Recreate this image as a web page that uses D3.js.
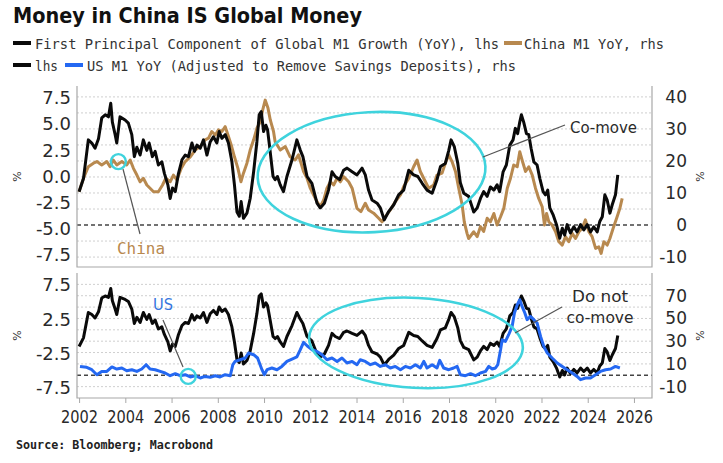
<!DOCTYPE html>
<html>
<head>
<meta charset="utf-8">
<script src="https://cdn.jsdelivr.net/npm/d3@7"></script>
<style>
  body { margin: 0; background: #fff; }
  svg { display: block; }
</style>
</head>
<body>
<svg id="chart" width="723" height="463"></svg>
<script>
// First principal component of global M1 growth (YoY), lhs - [year, %]
const globalPc1 = [
  [2002.0,-1.45],[2002.19,-0.2],[2002.40,3.5],[2002.55,3.2],[2002.69,2.7],[2002.84,3.6],[2002.98,5.6],[2003.13,5.9],
  [2003.27,5.7],[2003.37,7.0],[2003.44,5.2],[2003.56,4.0],[2003.63,3.2],[2003.77,5.7],[2003.99,5.4],[2004.13,5.1],
  [2004.28,4.0],[2004.39,1.9],[2004.50,2.8],[2004.64,2.05],[2004.78,3.5],[2004.93,2.5],[2005.03,3.2],[2005.17,1.9],
  [2005.29,2.4],[2005.43,1.1],[2005.58,1.4],[2005.69,0.3],[2005.84,-0.8],[2005.94,-2.1],[2006.04,-1.1],[2006.16,-1.45],
  [2006.30,0.3],[2006.45,1.6],[2006.59,2.05],[2006.73,1.9],[2006.88,3.2],[2006.99,2.4],[2007.10,3.0],[2007.24,2.7],
  [2007.38,3.5],[2007.53,2.05],[2007.67,3.3],[2007.81,3.8],[2007.96,3.2],[2008.06,4.3],[2008.18,3.65],[2008.32,4.0],
  [2008.46,3.2],[2008.61,1.4],[2008.72,-0.8],[2008.83,-3.4],[2008.93,-3.8],[2009.01,-2.4],[2009.11,-4.0],[2009.26,-3.5],
  [2009.40,-2.1],[2009.55,0.45],[2009.69,3.3],[2009.79,5.9],[2009.88,6.2],[2009.98,4.3],[2010.08,4.9],[2010.15,4.5],
  [2010.24,2.85],[2010.39,0.0],[2010.48,-0.3],[2010.58,0.0],[2010.70,-0.8],[2010.84,-1.45],[2010.99,0.0],[2011.21,1.6],
  [2011.42,3.5],[2011.57,2.5],[2011.68,1.9],[2011.86,0.0],[2012.07,-0.65],[2012.29,-2.55],[2012.43,-3.0],[2012.61,-2.55],
  [2012.79,-1.3],[2012.94,0.45],[2013.08,0.0],[2013.27,-0.3],[2013.44,0.6],[2013.59,0.8],[2013.81,0.45],[2014.02,0.15],
  [2014.24,0.8],[2014.38,0.15],[2014.52,-1.3],[2014.67,-2.25],[2014.89,-2.55],[2015.03,-3.0],[2015.20,-4.15],[2015.39,-3.35],
  [2015.61,-2.7],[2015.82,-1.75],[2016.04,-1.3],[2016.26,0.6],[2016.47,0.15],[2016.65,0.0],[2016.84,-0.65],[2017.05,-1.3],
  [2017.27,-1.6],[2017.48,-0.3],[2017.63,0.95],[2017.84,1.25],[2017.99,2.5],[2018.09,3.5],[2018.23,2.85],[2018.38,1.25],
  [2018.49,-0.6],[2018.64,-1.6],[2018.85,-1.9],[2019.07,-3.4],[2019.22,-3.0],[2019.36,-2.1],[2019.50,-1.45],[2019.65,-1.9],
  [2019.79,-1.0],[2019.94,-1.3],[2020.08,-0.8],[2020.19,-1.45],[2020.34,0.45],[2020.48,1.1],[2020.63,3.0],[2020.77,3.5],
  [2020.87,4.6],[2020.97,4.1],[2021.06,5.2],[2021.13,5.9],[2021.23,5.2],[2021.35,4.1],[2021.45,4.0],[2021.55,2.7],
  [2021.67,1.4],[2021.81,1.1],[2021.93,-0.2],[2022.07,-1.45],[2022.17,-1.75],[2022.27,-1.3],[2022.36,-3.0],[2022.51,-3.7],
  [2022.65,-4.6],[2022.79,-5.9],[2022.90,-4.95],[2023.00,-5.6],[2023.11,-4.6],[2023.25,-5.4],[2023.40,-4.8],[2023.54,-5.3],
  [2023.69,-4.6],[2023.83,-5.1],[2023.98,-4.6],[2024.12,-5.3],[2024.26,-4.8],[2024.41,-5.3],[2024.52,-4.3],[2024.63,-3.85],
  [2024.74,-1.75],[2024.84,-2.25],[2024.96,-3.5],[2025.06,-2.7],[2025.20,-1.75],[2025.30,0.15]
];

// China M1 YoY, rhs - [year, %]
const chinaM1 = [
  [2002.0,10.4],[2002.19,14.6],[2002.40,18.2],[2002.62,19.3],[2002.77,19.8],[2002.98,18.75],[2003.20,19.8],[2003.34,18.2],
  [2003.48,20.3],[2003.63,18.75],[2003.85,19.8],[2004.06,18.75],[2004.21,20.3],[2004.35,17.7],[2004.50,15.6],[2004.64,13.5],
  [2004.78,14.6],[2004.93,12.5],[2005.07,11.5],[2005.22,10.4],[2005.43,10.4],[2005.61,12.5],[2005.75,14.6],[2005.94,13.5],
  [2006.08,15.6],[2006.23,14.1],[2006.42,17.7],[2006.59,19.8],[2006.81,21.3],[2007.02,23.4],[2007.24,24.5],[2007.45,26.6],
  [2007.60,27.1],[2007.74,29.2],[2007.89,28.1],[2008.03,29.7],[2008.18,29.2],[2008.32,30.7],[2008.44,28.1],[2008.58,25],
  [2008.72,21.3],[2008.87,17.7],[2009.00,13.5],[2009.11,16.2],[2009.26,19.3],[2009.40,23.4],[2009.55,26.6],[2009.69,30.2],
  [2009.84,32.3],[2009.94,35.9],[2010.05,39],[2010.17,36.5],[2010.27,32.8],[2010.41,29.2],[2010.48,26],[2010.70,23.4],
  [2010.92,24.5],[2011.13,21.3],[2011.35,20.3],[2011.49,21.9],[2011.71,16.7],[2011.86,14.6],[2012.00,11.5],[2012.14,9.4],
  [2012.29,7.3],[2012.43,5.7],[2012.58,7.8],[2012.72,11.5],[2012.87,13.5],[2013.01,12.5],[2013.16,14.6],[2013.30,13.5],
  [2013.44,15.1],[2013.66,13.5],[2013.81,11.5],[2014.02,5.2],[2014.19,4.2],[2014.38,6.8],[2014.52,4.7],[2014.74,3.7],
  [2014.96,2.1],[2015.10,1.0],[2015.25,2.6],[2015.46,4.7],[2015.68,7.3],[2015.90,9.4],[2016.04,12],[2016.26,14.6],
  [2016.47,18.2],[2016.62,20.3],[2016.76,16.7],[2016.98,13.5],[2017.12,11.5],[2017.34,12.5],[2017.48,15.6],[2017.70,16.2],
  [2017.84,19.3],[2017.99,21.9],[2018.13,19.8],[2018.28,16.7],[2018.42,11.5],[2018.57,6.25],[2018.66,1.0],[2018.78,-2.6],
  [2018.85,-4.2],[2019.07,-2.1],[2019.22,-3.6],[2019.36,-0.5],[2019.50,-2],[2019.65,2.1],[2019.79,1.0],[2019.94,3.6],
  [2020.08,0],[2020.23,2.6],[2020.37,5.2],[2020.52,11.5],[2020.66,14.6],[2020.80,18.75],[2020.95,18.2],[2021.06,22.9],
  [2021.16,20.3],[2021.31,16.7],[2021.45,18.2],[2021.60,15.6],[2021.74,11.5],[2021.88,8.3],[2022.03,5.7],[2022.13,0],
  [2022.22,3.6],[2022.32,1.0],[2022.46,0],[2022.61,-2.1],[2022.75,-5.2],[2022.90,-6.25],[2023.04,-3.6],[2023.18,-5.2],
  [2023.33,-2.6],[2023.47,-4.2],[2023.62,-2.1],[2023.76,-1],[2023.90,1.6],[2024.05,-2.1],[2024.19,-3.6],[2024.34,-7.3],
  [2024.48,-6.8],[2024.58,-8.85],[2024.70,-5.2],[2024.84,-6.25],[2024.96,-4.2],[2025.10,-1],[2025.25,2.1],[2025.39,5.2],
  [2025.49,8.3]
];

// US M1 YoY (adjusted to remove savings deposits), rhs - [year, %]
const usM1 = [
  [2002.04,7.8],[2002.33,7],[2002.55,4.9],[2002.77,0.5],[2002.98,3.4],[2003.20,3.4],[2003.42,7.3],[2003.63,5.5],
  [2003.85,6.4],[2004.06,4],[2004.28,4.9],[2004.50,3.4],[2004.71,5.5],[2004.90,9.3],[2005.07,5.5],[2005.29,4.9],
  [2005.51,3.4],[2005.72,2],[2005.94,-0.4],[2006.16,1.4],[2006.37,-0.4],[2006.59,0.5],[2006.81,-1.5],[2007.02,-0.4],
  [2007.24,-2.4],[2007.45,-1],[2007.67,-1.8],[2007.89,-0.4],[2008.10,-1.5],[2008.32,0.5],[2008.54,-0.4],[2008.65,9.3],
  [2008.75,12.2],[2008.97,13.7],[2009.19,15.2],[2009.33,19.6],[2009.55,18.1],[2009.72,15.2],[2009.91,4.9],[2010.01,0.5],
  [2010.13,4.9],[2010.34,6.4],[2010.56,4.9],[2010.77,7.8],[2010.99,12.2],[2011.21,14.3],[2011.42,16.1],[2011.57,22.5],
  [2011.71,28.9],[2011.86,26],[2012.07,22.5],[2012.29,21],[2012.51,18.1],[2012.72,13.7],[2012.94,15.2],[2013.16,12.2],
  [2013.37,15.2],[2013.59,10.8],[2013.81,12.2],[2014.02,9.3],[2014.16,13.7],[2014.38,12.2],[2014.60,9.3],[2014.81,10.8],
  [2015.03,7.8],[2015.25,9.3],[2015.46,6.4],[2015.68,7.8],[2015.90,4.9],[2016.11,7.8],[2016.33,6.4],[2016.55,9.3],
  [2016.76,6.4],[2016.91,12.2],[2017.05,6.4],[2017.27,9.3],[2017.48,6.4],[2017.60,13.1],[2017.77,6.4],[2017.99,4.9],
  [2018.20,6.4],[2018.35,7.8],[2018.49,0.5],[2018.71,-0.4],[2018.93,1.4],[2019.14,-0.4],[2019.36,2],[2019.58,3.4],
  [2019.72,7.8],[2019.87,5.5],[2020.01,6.4],[2020.11,9.3],[2020.23,22.5],[2020.30,31.3],[2020.44,29.8],[2020.58,35.7],
  [2020.73,43],[2020.83,54.8],[2020.95,62],[2021.06,66.5],[2021.16,60.6],[2021.28,54.8],[2021.38,48.9],[2021.52,51.8],
  [2021.67,48.9],[2021.81,46],[2021.96,34.2],[2022.10,25.4],[2022.25,19.6],[2022.46,15.2],[2022.68,10.8],[2022.90,7.8],
  [2023.11,4.9],[2023.33,2],[2023.54,-1],[2023.69,-3.9],[2023.90,-2.4],[2024.12,-2.4],[2024.34,0.5],[2024.55,3.4],
  [2024.77,4.9],[2024.99,5.5],[2025.20,7.8],[2025.39,6.4]
];

const yearTicks = d3.range(2002, 2027, 2);
const topLhsTicks = [7.5, 5, 2.5, 0, -2.5, -5, -7.5];
const topRhsTicks = [40, 30, 20, 10, 0, -10];
const topGrid = d3.range(-10, 41, 5);
const botLhsTicks = [7.5, 2.5, -2.5, -7.5];
const botRhsTicks = [70, 50, 30, 10, -10];
const botGrid = d3.range(-10, 81, 10);

const black = "#0a0a0a", gold = "#b8894f", blue = "#2468f2", cyan = "#3fd3dd";
const labelFont = "'DejaVu Sans', Verdana, sans-serif";
const monoFont = "'DejaVu Sans Mono', monospace";

const svg = d3.select("#chart");
const left = 77, right = 652;
const topPanel = { y0: 86, y1: 267 };
const botPanel = { y0: 273, y1: 398 };

const x = d3.scaleLinear().domain([2001.91, 2026.78]).range([left, right]);
const yTopL = d3.scaleLinear().domain([-8.65, 8.65]).range([topPanel.y1, topPanel.y0]);
const yTopR = d3.scaleLinear().domain([-13.1, 43.4]).range([topPanel.y1, topPanel.y0]);
const yBotL = d3.scaleLinear().domain([-8.96, 9.25]).range([botPanel.y1, botPanel.y0]);
const yBotR = d3.scaleLinear().domain([-20, 90]).range([botPanel.y1, botPanel.y0]);

// title + legend
svg.append("text").attr("x", 13).attr("y", 23)
  .attr("font-family", labelFont).attr("font-weight", "bold").attr("font-size", 20.5)
  .attr("fill", "#111").attr("textLength", 349).attr("lengthAdjust", "spacingAndGlyphs")
  .text("Money in China IS Global Money");

const legendItems = [
  { color: black, x: 13, y: 43, label: "First Principal Component of Global M1 Growth (YoY), lhs", tx: 35, len: 464 },
  { color: gold, x: 504, y: 43, label: "China M1 YoY, rhs", tx: 524, len: 140 },
  { color: black, x: 13, y: 65, label: "lhs", tx: 35, len: 23 },
  { color: blue, x: 65, y: 65, label: "US M1 YoY (Adjusted to Remove Savings Deposits), rhs", tx: 87, len: 429 }
];
legendItems.forEach(d => {
  svg.append("line").attr("x1", d.x).attr("x2", d.x + 18).attr("y1", d.y).attr("y2", d.y)
    .attr("stroke", d.color).attr("stroke-width", 4);
  svg.append("text").attr("x", d.tx).attr("y", d.y + 5.5)
    .attr("font-family", monoFont).attr("font-size", 13.6).attr("fill", "#333")
    .attr("textLength", d.len).attr("lengthAdjust", "spacingAndGlyphs")
    .text(d.label);
});

function drawPanel(p, yL, yR, grid, lhsTicks, rhsTicks, lhsFmt) {
  const g = svg.append("g");

  g.selectAll(".grid").data(grid).enter().append("line")
    .attr("x1", left).attr("x2", right)
    .attr("y1", d => yR(d)).attr("y2", d => yR(d))
    .attr("stroke", d => d === 0 ? "#444" : "#cfcfcf")
    .attr("stroke-width", d => d === 0 ? 1.6 : 1)
    .attr("stroke-dasharray", d => d === 0 ? "4,3" : "2,2");

  // frame: left, right, bottom
  g.append("path")
    .attr("d", `M${left},${p.y0}V${p.y1}H${right}V${p.y0}`)
    .attr("fill", "none").attr("stroke", "#a8a8a8").attr("stroke-width", 1.2);

  const axL = g.append("g").attr("transform", `translate(${left},0)`)
    .call(d3.axisLeft(yL).tickValues(lhsTicks).tickFormat(lhsFmt).tickSize(0).tickPadding(6));
  const axR = g.append("g").attr("transform", `translate(${right},0)`)
    .call(d3.axisRight(yR).tickValues(rhsTicks).tickFormat(d => String(d)).tickSize(0));
  [axL, axR].forEach(a => {
    a.select(".domain").remove();
    a.selectAll("text").attr("font-family", labelFont).attr("fill", "#2a2a2a");
  });
  axL.selectAll("text").attr("font-size", 18);
  axR.selectAll("text").attr("font-size", 17).attr("text-anchor", "end").attr("x", 35);

  const mid = (p.y0 + p.y1) / 2;
  [17, 700].forEach(px => {
    g.append("text").attr("transform", `translate(${px},${mid}) rotate(-90)`)
      .attr("text-anchor", "middle").attr("dy", "0.35em")
      .attr("font-family", labelFont).attr("font-size", 11).attr("fill", "#333")
      .text("%");
  });
  return g;
}

const fmtLhs = d => d.toFixed(1);

const gTop = drawPanel(topPanel, yTopL, yTopR, topGrid, topLhsTicks, topRhsTicks, fmtLhs);
const gBot = drawPanel(botPanel, yBotL, yBotR, botGrid, botLhsTicks, botRhsTicks, fmtLhs);

const lineOf = ys => d3.line().x(d => x(d[0])).y(d => ys(d[1]));

gTop.append("path").datum(chinaM1).attr("d", lineOf(yTopR))
  .attr("fill", "none").attr("stroke", gold).attr("stroke-width", 3).attr("stroke-linejoin", "round");
gTop.append("path").datum(globalPc1).attr("d", lineOf(yTopL))
  .attr("fill", "none").attr("stroke", black).attr("stroke-width", 3).attr("stroke-linejoin", "round");

gBot.append("path").datum(globalPc1).attr("d", lineOf(yBotL))
  .attr("fill", "none").attr("stroke", black).attr("stroke-width", 3).attr("stroke-linejoin", "round");
gBot.append("path").datum(usM1).attr("d", lineOf(yBotR))
  .attr("fill", "none").attr("stroke", blue).attr("stroke-width", 3).attr("stroke-linejoin", "round");

// x axis
const axX = svg.append("g").attr("transform", `translate(0,${botPanel.y1})`)
  .call(d3.axisBottom(x).tickValues(yearTicks).tickFormat(d => String(d)).tickSize(5).tickPadding(8));
axX.select(".domain").remove();
axX.selectAll("line").attr("stroke", "#a8a8a8");
axX.selectAll("text").attr("font-family", labelFont).attr("font-size", 17).attr("fill", "#2a2a2a")
  .attr("textLength", 37).attr("lengthAdjust", "spacingAndGlyphs");

// annotations
const ann = svg.append("g").attr("fill", "none");

ann.append("ellipse")
  .attr("transform", `translate(${x(2014.65)},${yTopR(16.5)}) rotate(-3)`)
  .attr("rx", 114).attr("ry", 60).attr("stroke", cyan).attr("stroke-width", 2.6);
ann.append("circle").attr("cx", x(2003.7)).attr("cy", yTopR(19.8)).attr("r", 7.5)
  .attr("stroke", cyan).attr("stroke-width", 2.4);
ann.append("line").attr("x1", 123).attr("y1", 169).attr("x2", 140).attr("y2", 234)
  .attr("stroke", "#555").attr("stroke-width", 1.2);
svg.append("text").attr("x", 117).attr("y", 254)
  .attr("font-family", monoFont).attr("font-size", 16).attr("fill", gold)
  .attr("textLength", 48).attr("lengthAdjust", "spacingAndGlyphs").text("China");

ann.append("line").attr("x1", 565).attr("y1", 125).attr("x2", 483).attr("y2", 157)
  .attr("stroke", "#555").attr("stroke-width", 1.2);
svg.append("text").attr("x", 570).attr("y", 133)
  .attr("font-family", labelFont).attr("font-size", 16).attr("fill", "#2a2a2a")
  .attr("textLength", 67).attr("lengthAdjust", "spacingAndGlyphs").text("Co-move");

ann.append("ellipse")
  .attr("transform", `translate(${x(2016.57)},${yBotR(28.5)}) rotate(3)`)
  .attr("rx", 107).attr("ry", 45).attr("stroke", cyan).attr("stroke-width", 2.6);
ann.append("circle").attr("cx", x(2006.72)).attr("cy", yBotR(-1)).attr("r", 7.5)
  .attr("stroke", cyan).attr("stroke-width", 2.4);
ann.append("line").attr("x1", 163).attr("y1", 320).attr("x2", 183).attr("y2", 367)
  .attr("stroke", "#555").attr("stroke-width", 1.2);
svg.append("text").attr("x", 153).attr("y", 310)
  .attr("font-family", labelFont).attr("font-size", 16).attr("fill", "#3576de")
  .attr("textLength", 20).attr("lengthAdjust", "spacingAndGlyphs").text("US");

ann.append("line").attr("x1", 562).attr("y1", 307).attr("x2", 515).attr("y2", 333)
  .attr("stroke", "#555").attr("stroke-width", 1.2);
svg.append("text").attr("x", 600).attr("y", 302).attr("text-anchor", "middle")
  .attr("font-family", labelFont).attr("font-size", 16).attr("fill", "#2a2a2a")
  .attr("textLength", 56).attr("lengthAdjust", "spacingAndGlyphs").text("Do not");
svg.append("text").attr("x", 600).attr("y", 323).attr("text-anchor", "middle")
  .attr("font-family", labelFont).attr("font-size", 16).attr("fill", "#2a2a2a")
  .attr("textLength", 67).attr("lengthAdjust", "spacingAndGlyphs").text("co-move");

// source
svg.append("text").attr("x", 16).attr("y", 449)
  .attr("font-family", monoFont).attr("font-weight", "bold").attr("font-size", 12).attr("fill", "#222")
  .attr("textLength", 197).attr("lengthAdjust", "spacingAndGlyphs")
  .text("Source: Bloomberg; Macrobond");
</script>
</body>
</html>
